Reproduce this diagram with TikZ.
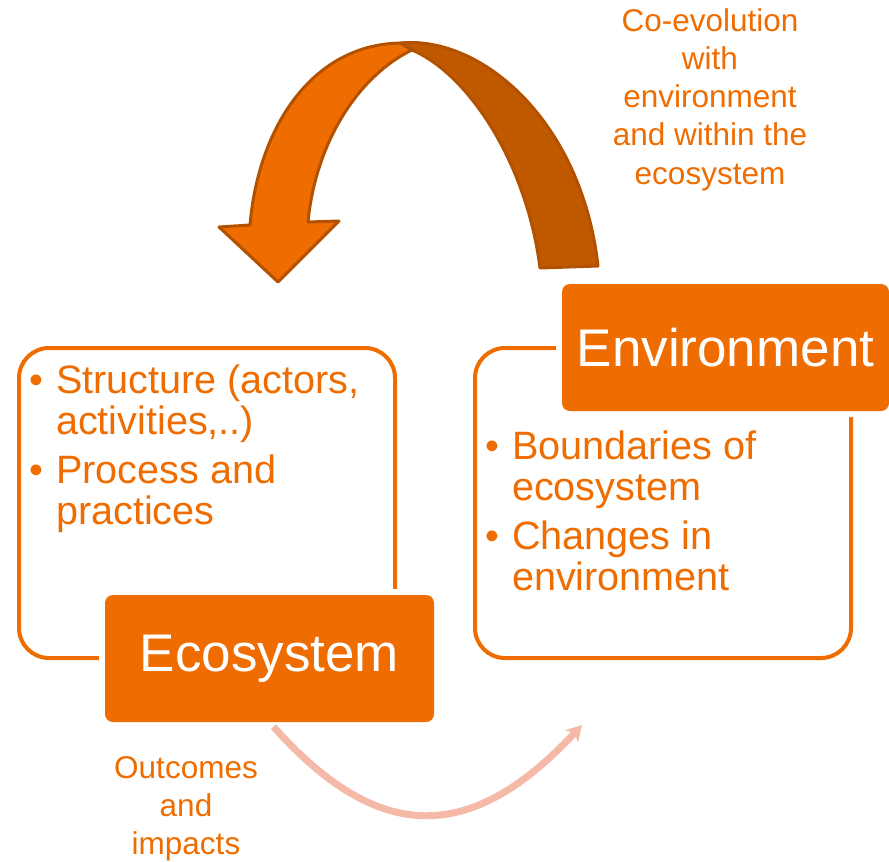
\documentclass[tikz,border=0pt]{standalone}
\usepackage{fontspec}
\setmainfont{Liberation Sans}
\usetikzlibrary{arrows.meta}
\definecolor{ecoorange}{RGB}{239,108,0}
\definecolor{ecobrown}{RGB}{192,88,0}
\definecolor{ecoedge}{RGB}{178,82,0}
\definecolor{ecopink}{RGB}{245,185,168}

\begin{document}
\begin{tikzpicture}[x=1pt, y=-1pt,
    outlinebox/.style={draw=ecoorange, line width=4pt, rounded corners=30pt},
    titlebox/.style={fill=ecoorange, rounded corners=8pt, inner sep=0pt, text=white,
      font=\fontsize{53}{60}\selectfont, preaction={draw=white, line width=12pt}},
    listtext/.style={inner sep=0pt, anchor=base west, text=ecoorange,
      font=\fontsize{39.6}{41}\selectfont},
    sidetext/.style={inner sep=0pt, anchor=base, text=ecoorange,
      font=\fontsize{31.5}{38.3}\selectfont},
    bigarrow/.style={draw=ecoedge, line width=3pt, line join=round}]
    \useasboundingbox (0,0) rectangle (889,862);

    % frames behind the two title boxes
    \draw[outlinebox] (19,348) rectangle (395,658);
    \draw[outlinebox] (475,348) rectangle (851,658);

    \node[titlebox, minimum width=327pt, minimum height=127pt] (envbox) at (725.5,347.5) {Environment};
    \node[titlebox, minimum width=329pt, minimum height=127pt] (ecobox) at (269.5,658.5) {Ecosystem};

    \node[listtext] (ecolist) at (29,393) {\begin{tabular}[t]{@{}l@{\hspace{13pt}}l@{}}
      \textbullet & Structure (actors,\\ & activities,..)\\[8pt]
      \textbullet & Process and\\ & practices\end{tabular}};
    \node[listtext] (envlist) at (485,459) {\begin{tabular}[t]{@{}l@{\hspace{13pt}}l@{}}
      \textbullet & Boundaries of\\ & ecosystem\\[8pt]
      \textbullet & Changes in\\ & environment\end{tabular}};

    % outcomes arrow
    \coordinate (outend) at (582,725);
    \draw[ecopink, line width=7pt, shorten <=6pt, -{Stealth[length=15pt, width=17pt, inset=4pt]}]
      (ecobox.south) .. controls (380,846) and (472,843) .. (outend);
    \node[sidetext] (outcomes) at (186,778) {\begin{tabular}[t]{@{}c@{}}Outcomes\\and\\impacts\end{tabular}};

    % co-evolution arrow
    \filldraw[bigarrow, fill=ecobrown] (400,43) .. controls (482,35) and (582,122) .. (598,266)
      -- (540,268) .. controls (527,165) and (470,75) .. (412,50) -- cycle;
    \filldraw[bigarrow, fill=ecoorange] (400,43) .. controls (310,45) and (258,130) .. (250,225)
      -- (219,227) -- (278,282) -- (339,221) -- (308,222)
      .. controls (316,140) and (360,75) .. (412,50) -- cycle;
    \node[sidetext] (coevo) at (710,31) {\begin{tabular}[t]{@{}c@{}}Co-evolution\\with\\environment\\and within the\\ecosystem\end{tabular}};
\end{tikzpicture}
\end{document}
